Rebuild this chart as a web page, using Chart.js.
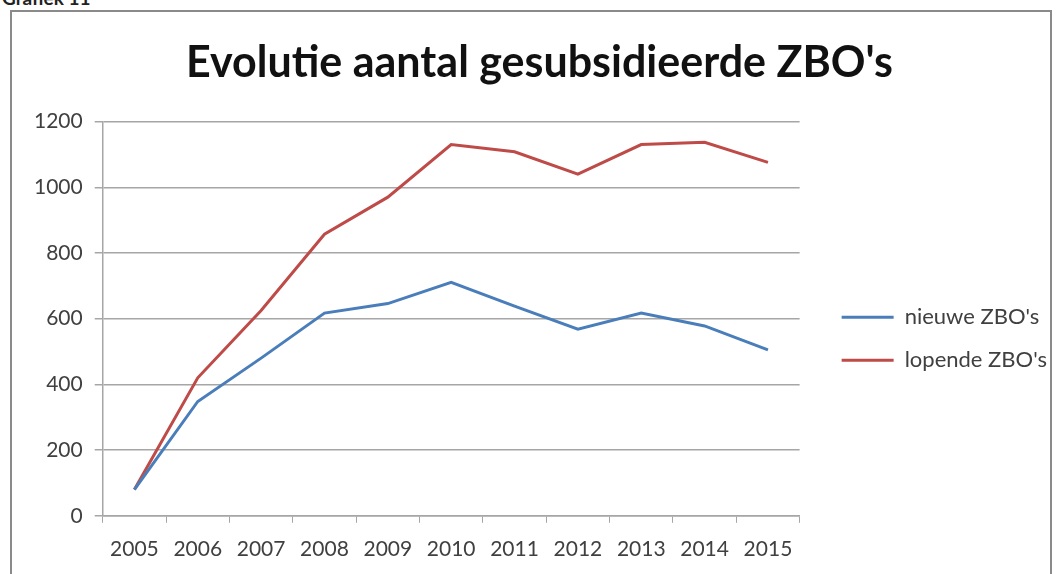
<!DOCTYPE html>
<html>
<head>
<meta charset="utf-8">
<script src="https://cdn.jsdelivr.net/npm/chart.js@4"></script>
<style>
body { margin:0; background:#fff; }
#wrap { position:relative; width:1057px; height:574px; overflow:hidden; background:#fff; }
#kop { position:absolute; left:2px; top:-14px; font:bold 19px Lato, sans-serif; color:#222; }
#rand { position:absolute; left:10px; top:10px; width:1038px; height:600px; border:2px solid #8a8a8a; }
#grafiek { position:absolute; left:0; top:0; }
</style>
</head>
<body>
<div id="wrap">
<div id="kop">Grafiek 11</div>
<div id="rand"></div>
<canvas id="grafiek" width="1057" height="574"></canvas>
</div>
<script>
var jaren = ['2005','2006','2007','2008','2009','2010','2011','2012','2013','2014','2015'];
var nieuwe = [80, 348, 480, 617, 646, 711, 638, 568, 617, 578, 505];
var lopende = [80, 420, 625, 857, 970, 1130, 1108, 1040, 1130, 1137, 1076];
var yTicks = [0, 200, 400, 600, 800, 1000, 1200];

var grijs = '#a6a6a6';
var tekst = '#404040';

new Chart(document.getElementById('grafiek'), {
    type: 'line',
    data: {
        labels: jaren,
        datasets: [
            { label: "nieuwe ZBO's", data: nieuwe, borderColor: '#4a7ebb', backgroundColor: '#4a7ebb', borderWidth: 3, pointRadius: 0, tension: 0 },
            { label: "lopende ZBO's", data: lopende, borderColor: '#be4b48', backgroundColor: '#be4b48', borderWidth: 3, pointRadius: 0, tension: 0 }
        ]
    },
    options: {
        responsive: false,
        animation: false,
        layout: { padding: { left: 22, right: 0, top: 37, bottom: -2 } },
        plugins: {
            title: {
                display: true,
                text: "Evolutie aantal gesubsidieerde ZBO's",
                color: '#111',
                font: { family: 'Lato', size: 43, weight: 'bold' },
                padding: { top: 0, bottom: 33 }
            },
            legend: {
                position: 'right',
                // lege titel schuift de items wat omlaag
                title: { display: true, text: ' ', font: { size: 22 }, padding: { top: 19, bottom: 19 } },
                labels: {
                    usePointStyle: true,
                    pointStyle: 'line',
                    pointStyleWidth: 52,
                    color: tekst,
                    font: { family: 'Lato', size: 22 },
                    padding: 21
                }
            },
            tooltip: { enabled: false }
        },
        scales: {
            x: {
                offset: true,
                grid: { offset: true, drawOnChartArea: false, color: grijs, tickLength: 7 },
                border: { color: grijs, width: 1.5 },
                ticks: { color: tekst, font: { family: 'Lato', size: 21 }, padding: 14, maxRotation: 0 }
            },
            y: {
                min: 0,
                max: 1200,
                afterBuildTicks: function (s) { s.ticks = yTicks.map(function (v) { return { value: v }; }); },
                grid: { color: grijs, lineWidth: 1.5, tickLength: 8 },
                border: { color: grijs, width: 1.5 },
                ticks: { color: tekst, font: { family: 'Lato', size: 21 }, padding: 12, callback: function (v) { return String(v); } }
            },
            // onzichtbare as rechts, alleen voor ruimte tussen plot en legenda
            ruimte: {
                type: 'linear',
                position: 'right',
                display: false,
                afterFit: function (s) { s.width = 21; }
            }
        }
    }
});
</script>
</body>
</html>
